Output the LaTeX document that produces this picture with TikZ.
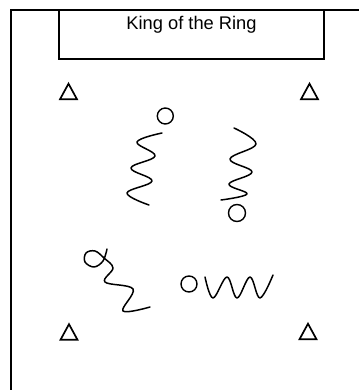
\documentclass[tikz,border=0pt]{standalone}
\usepackage{fontspec}
\setmainfont{Liberation Sans}
\begin{document}
\begin{tikzpicture}[x=1pt,y=-1pt,
  framestyle/.style={line width=1.8pt},
  trist/.style={line width=1.7pt, line join=miter},
  wave/.style={line width=1.5pt, line cap=round, line join=round},
  ball/.style={line width=1.4pt},
  tri/.pic={\draw[trist] (-8.5,7.8)--(0,-7.8)--(8.5,7.8)--cycle;}]
\useasboundingbox (0,0) rectangle (359,390);
% frame
\coordinate (ftl) at (11,10);
\coordinate (ftr) at (359,10);
\coordinate (fbl) at (11,390);
\draw[framestyle] (fbl) -- (ftl) -- (ftr);
% title box
\node[draw, framestyle, minimum width=265pt, minimum height=49pt, inner sep=0pt] (box) at (191.5,34.5) {};
\node[anchor=base, font=\fontsize{18.3}{20}\selectfont, inner sep=0pt] (title) at (191.5,29.3) {King of the Ring};
% triangles
\pic at (68.5,91.5) {tri};
\pic at (309.5,91.5) {tri};
\pic at (69,332) {tri};
\pic at (308,331.5) {tri};
% top-left spring with ball
\draw[ball] (165.3,116) circle (8pt);
\draw[wave] plot[smooth, tension=0.65] coordinates {(162,133) (137,142) (155,156) (131,168) (152,181) (127,193) (149,205)};
% right spring with ball
\draw[ball] (237,213) circle (8.5pt);
\draw[wave] plot[smooth, tension=0.65] coordinates {(234,128) (256,144) (230,159) (252,172) (229,184) (247,194) (221,200)};
% bottom-left spring with loop
\draw[wave] plot[smooth, tension=0.6] coordinates {(107,249) (103,261) (94,267) (85,262) (86,253) (95,251) (104,258) (113,268) (105,282) (133,289) (123,311) (150,307)};
% bottom-right spring with ball
\draw[ball] (189,284) circle (8pt);
\draw[wave] plot[smooth, tension=0.6] coordinates {(205,277) (213,298) (227,277) (237,298) (250,277) (260,298) (273,275)};
\end{tikzpicture}
\end{document}
